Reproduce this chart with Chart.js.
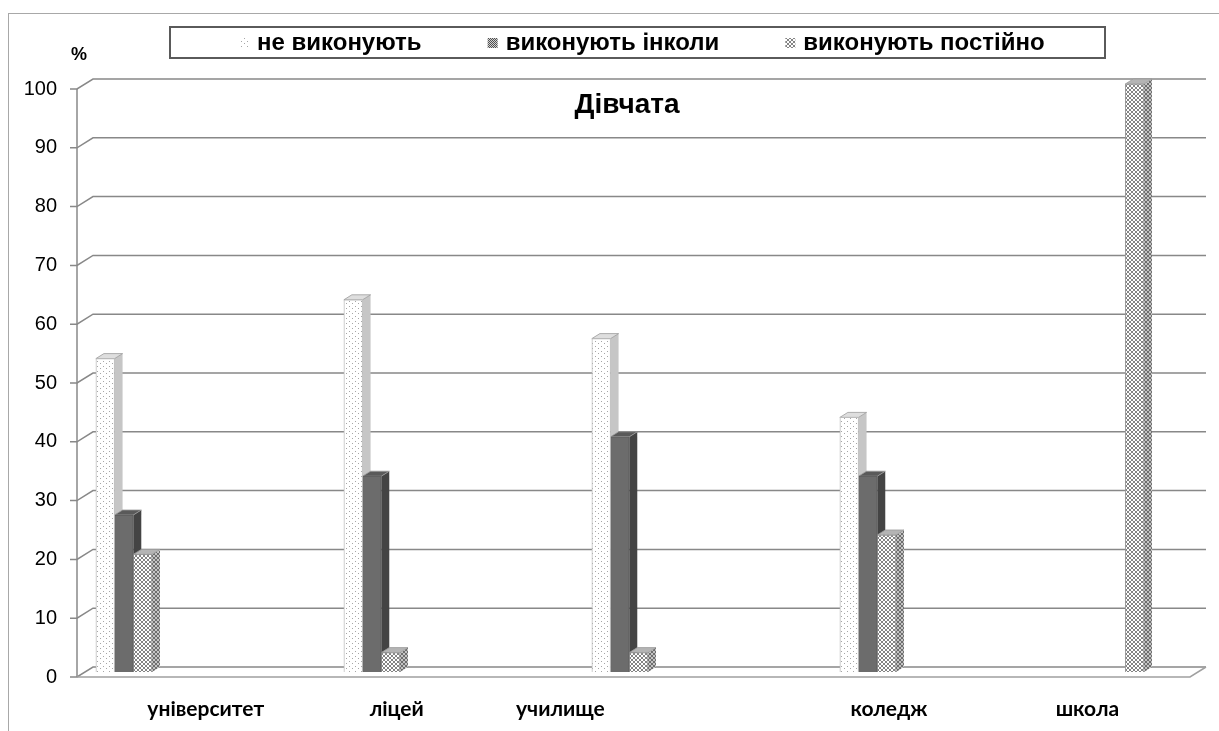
<!DOCTYPE html>
<html lang="uk">
<head>
<meta charset="UTF-8">
<title>Дівчата</title>
<style>
    html, body { margin: 0; padding: 0; background: #fff; }
</style>
</head>
<body>
<canvas id="chart" width="1219" height="731"></canvas>

<script src="https://cdn.jsdelivr.net/npm/chart.js"></script>

<script>
    // data
    const categories = ["університет", "ліцей", "училище", "коледж", "школа"];
    const seriesNames = ["не виконують", "виконують інколи", "виконують постійно"];
    const neVykonuyut = [53.3, 63.3, 56.7, 43.3, 0];
    const inkoly = [26.7, 33.3, 40, 33.3, 0];
    const postiyno = [20, 3.3, 3.3, 23.3, 100];
    const chartTitle = "Дівчата";
    const yUnit = "%";

    const ctx = document.getElementById('chart').getContext('2d');

    // 3d depth of the walls / bars (half of the wall depth)
    const D = 8, E = 5;
    // where the category texts sit, in x-scale units (they are not under the bars)
    const labelPos = [0.33, 1.10, 1.76, 3.085, 3.885];
    const xMin = -0.157, xMax = 4.331;

    // small helper to build fill patterns
    function makePattern(w, h, bg, fg, pts) {
        const c = document.createElement('canvas');
        c.width = w; c.height = h;
        const g = c.getContext('2d');
        g.fillStyle = bg;
        g.fillRect(0, 0, w, h);
        g.fillStyle = fg;
        pts.forEach(p => g.fillRect(p[0], p[1], 1, 1));
        return ctx.createPattern(c, 'repeat');
    }

    const dots = makePattern(6, 5, '#ffffff', '#a6a6a6', [[1, 1], [4, 3]]);
    const cross = makePattern(4, 4, '#ffffff', '#848484',
        [[0, 0], [1, 1], [2, 2], [3, 3], [3, 0], [2, 1], [1, 2], [0, 3]]);
    const crossDark = makePattern(4, 4, '#c4c4c4', '#6e6e6e',
        [[0, 0], [1, 1], [2, 2], [3, 3], [3, 0], [2, 1], [1, 2], [0, 3]]);
    const checker = makePattern(2, 2, '#d0d0d0', '#505050', [[0, 0], [1, 1]]);

    const sideColors = ['#c6c6c6', '#444444', crossDark];
    const topColors = ['#dedede', '#5a5a5a', '#b4b4b4'];
    const legendMarks = [dots, checker, cross];

    const toPoints = arr => arr.map((v, i) => ({x: i, y: v}));

    // back walls, floor, y axis and the side/top faces of the bars
    const depthPlugin = {
        id: 'depth',
        beforeDraw(chart) {
            const c = chart.ctx;
            c.save();
            c.strokeStyle = '#a8a8a8';
            c.lineWidth = 1;
            c.strokeRect(8.5, 13.5, 1400, 900);
            c.restore();
        },
        beforeDatasetsDraw(chart) {
            const c = chart.ctx;
            const a = chart.chartArea;
            const y = chart.scales.y;
            c.save();
            c.strokeStyle = '#888888';
            c.lineWidth = 1.5;
            y.ticks.forEach(t => {
                const py = y.getPixelForValue(t.value);
                c.beginPath();
                c.moveTo(a.left - D - 7, py + E);
                c.lineTo(a.left - D, py + E);
                c.lineTo(a.left + D, py - E);
                c.lineTo(a.right + D, py - E);
                c.stroke();
            });
            // y axis line
            c.beginPath();
            c.moveTo(a.left - D, a.top + E);
            c.lineTo(a.left - D, a.bottom + E);
            c.stroke();
            // floor front edge
            c.strokeStyle = '#a0a0a0';
            c.beginPath();
            c.moveTo(a.left - D, a.bottom + E);
            c.lineTo(a.right - D, a.bottom + E);
            c.lineTo(a.right + D, a.bottom - E);
            c.stroke();

            // side and top faces of every bar
            chart.data.datasets.forEach((ds, di) => {
                const meta = chart.getDatasetMeta(di);
                meta.data.forEach((el, i) => {
                    if (!ds.data[i].y) return;
                    const p = el.getProps(['x', 'y', 'base', 'width'], true);
                    const L = p.x - p.width / 2, R = p.x + p.width / 2;
                    c.fillStyle = sideColors[di];
                    c.beginPath();
                    c.moveTo(R, p.y);
                    c.lineTo(R + D, p.y - E);
                    c.lineTo(R + D, p.base - E);
                    c.lineTo(R, p.base);
                    c.closePath();
                    c.fill();
                    c.fillStyle = topColors[di];
                    c.beginPath();
                    c.moveTo(L, p.y);
                    c.lineTo(L + D, p.y - E);
                    c.lineTo(R + D, p.y - E);
                    c.lineTo(R, p.y);
                    c.closePath();
                    c.fill();
                    c.strokeStyle = '#9a9a9a';
                    c.lineWidth = 0.8;
                    c.stroke();
                });
            });
            c.restore();
        },
        afterDraw(chart) {
            const c = chart.ctx;
            c.save();
            // legend box
            c.fillStyle = '#fff';
            c.fillRect(170, 27, 935, 31);
            c.strokeStyle = '#5a5a5a';
            c.lineWidth = 2;
            c.strokeRect(170, 27, 935, 31);
            c.font = 'bold 24px "Liberation Sans", Arial, sans-serif';
            c.textBaseline = 'middle';
            c.textAlign = 'left';
            let x = 239;
            chart.data.datasets.forEach((ds, i) => {
                c.fillStyle = legendMarks[i];
                c.fillRect(x, 38, 10, 10);
                c.fillStyle = '#000';
                c.fillText(ds.label, x + 18, 43);
                x += 18 + c.measureText(ds.label).width + 66;
            });
            // unit and title
            c.textAlign = 'center';
            c.font = 'bold 18px "Liberation Sans", Arial, sans-serif';
            c.fillText(yUnit, 79, 55);
            c.font = 'bold 28px "Liberation Sans", Arial, sans-serif';
            c.fillText(chartTitle, 627, 105);
            c.restore();
        }
    };

    const chart = new Chart(ctx, {
        type: 'bar',
        data: {
            datasets: [{
                label: seriesNames[0],
                data: toPoints(neVykonuyut),
                backgroundColor: dots,
                borderColor: '#bdbdbd',
                borderWidth: 1
            }, {
                label: seriesNames[1],
                data: toPoints(inkoly),
                backgroundColor: '#6c6c6c',
                borderColor: '#5c5c5c',
                borderWidth: 1
            }, {
                label: seriesNames[2],
                data: toPoints(postiyno),
                backgroundColor: cross,
                borderColor: '#9a9a9a',
                borderWidth: 1
            }]
        },
        options: {
            responsive: false,
            animation: false,
            barThickness: 18.7,
            layout: {padding: {top: 84, right: 21, bottom: 0, left: 0}},
            plugins: {
                legend: {display: false},
                title: {display: false},
                tooltip: {enabled: false}
            },
            scales: {
                x: {
                    type: 'linear',
                    display: false,
                    offset: false,
                    min: xMin,
                    max: xMax
                },
                xl: {
                    type: 'linear',
                    position: 'bottom',
                    offset: false,
                    min: xMin,
                    max: xMax,
                    grid: {display: false, drawTicks: false},
                    border: {display: false},
                    afterBuildTicks: s => { s.ticks = labelPos.map(v => ({value: v})); },
                    afterFit: s => { s.height = 59; },
                    ticks: {
                        autoSkip: false,
                        maxRotation: 0,
                        padding: 25,
                        color: '#000',
                        font: {family: 'Lato, "Open Sans", sans-serif', size: 21, weight: 'bold'},
                        callback: (v, i) => categories[i]
                    }
                },
                y: {
                    min: 0,
                    max: 100,
                    grid: {display: false, drawTicks: false},
                    border: {display: false},
                    afterFit: s => { s.width = 85; },
                    ticks: {
                        stepSize: 10,
                        padding: 28,
                        labelOffset: 5,
                        color: '#000',
                        font: {family: '"Liberation Sans", Arial, sans-serif', size: 20}
                    }
                }
            }
        },
        plugins: [depthPlugin]
    });
</script>

</body>
</html>
